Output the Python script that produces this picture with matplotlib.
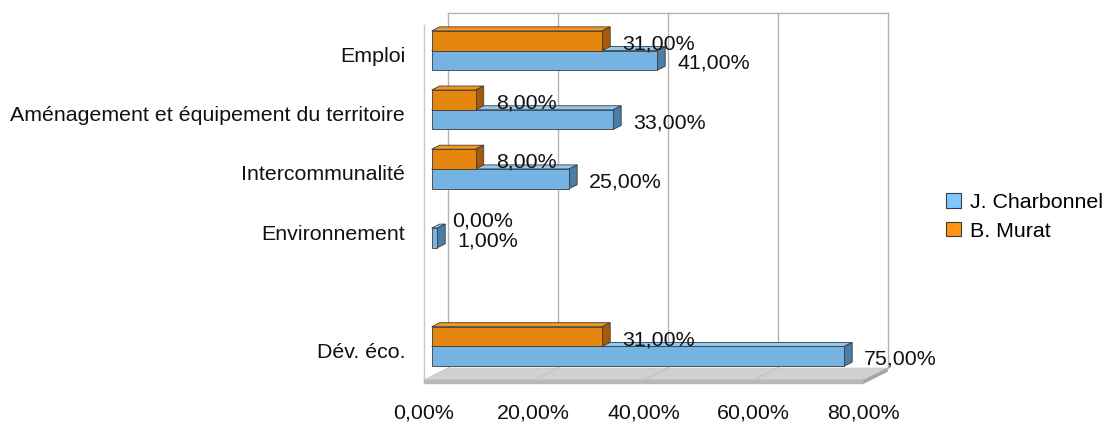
import matplotlib.pyplot as plt
from matplotlib.patches import Polygon, Patch
import numpy as np

plt.rcParams['font.family'] = ['Liberation Sans', 'DejaVu Sans']

# ------------------------------------------------------------
# Data (%), categories from top to bottom
# ------------------------------------------------------------
categories = ["Emploi", "Aménagement et équipement du territoire",
              "Intercommunalité", "Environnement", "", "Dév. éco."]
charbonnel = [41, 33, 25, 1, None, 75]
murat = [31, 8, 8, 0, None, 31]
series_names = ["J. Charbonnel", "B. Murat"]
xticks = [0, 20, 40, 60, 80]

# colours: front, top, side
blue = ("#75b4e2", "#8fcbf6", "#4a7ea6")
orange = ("#e5870f", "#f7961b", "#a75b08")
legend_cols = ["#80c8ff", "#ff9512"]
edge = "#3a3a3a"
FS = 15.4

W, H = 1104, 423
fig = plt.figure(figsize=(W / 100, H / 100), dpi=100)

# front plane of the 3D box in pixels
x0_px, x1_px = 423.7, 863.7
y_top_px, y_bot_px = 25, 380
ax = fig.add_axes([x0_px / W, (H - y_bot_px) / H, (x1_px - x0_px) / W, (y_bot_px - y_top_px) / H])
ax.set_xlim(0, 80)
ax.set_ylim(len(categories) - 0.5, -0.5)

px_x = 80 / (x1_px - x0_px)           # % per pixel
px_y = len(categories) / (y_bot_px - y_top_px)  # category per pixel
DX = 24 * px_x                        # full depth offset
DY = 12 * px_y


def P(x, y, d):
    return (x + d * DX, y - d * DY)


def poly(pts, fc, ec=None, lw=0.6, z=1):
    ax.add_patch(Polygon(pts, closed=True, facecolor=fc, edgecolor=ec if ec else fc,
                         linewidth=lw, zorder=z, clip_on=False, joinstyle='miter'))


ylo, yhi = len(categories) - 0.5, -0.5

# back wall + gridlines
poly([P(0, ylo, 1), P(80, ylo, 1), P(80, yhi, 1), P(0, yhi, 1)], "white", "none", z=0)
for t in xticks:
    ax.plot(*zip(P(t, ylo, 1), P(t, yhi, 1)), color="#b3b3b3", lw=1.0, zorder=0.5, clip_on=False)
ax.plot(*zip(P(0, yhi, 1), P(80, yhi, 1)), color="#b3b3b3", lw=1.0, zorder=0.5, clip_on=False)

# left wall edge
ax.plot([0, 0], [ylo, yhi], color="#c8c8c8", lw=1.0, zorder=0.5, clip_on=False)

# floor slab
thick = 3.5 * px_y
poly([P(0, ylo, 0), P(80, ylo, 0), P(80, ylo, 1), P(0, ylo, 1)], "#d0d0d0", "#c6c6c6", lw=0.5, z=0.6)
poly([P(0, ylo, 0), P(80, ylo, 0), P(80, ylo + thick, 0), P(0, ylo + thick, 0)], "#b9b9b9", "#b4b4b4", lw=0.3, z=0.6)
poly([P(80, ylo, 0), P(80, ylo, 1), P(80, ylo + thick, 1), P(80, ylo + thick, 0)], "#a5a5a5", "#a5a5a5", lw=0.3, z=0.6)
for t in xticks[1:-1]:
    ax.plot(*zip(P(t, ylo, 0), P(t, ylo, 1)), color="#c2c2c2", lw=0.8, zorder=0.7, clip_on=False)

# bars
bw = 1 / 3
d1, d2 = 1 / 3, 2 / 3


def bar3d(v, ya, yb, cols, z):
    if not v:
        return
    front, top, side = cols
    poly([P(0, ya, d1), P(v, ya, d1), P(v, ya, d2), P(0, ya, d2)], top, edge, z=z)
    poly([P(v, ya, d1), P(v, yb, d1), P(v, yb, d2), P(v, ya, d2)], side, edge, z=z)
    poly([P(0, ya, d1), P(v, ya, d1), P(v, yb, d1), P(0, yb, d1)], front, edge, z=z)


def label(v, ya, yb, z):
    x, y = P(v, (ya + yb) / 2, d1)
    ax.annotate(f"{v:.2f}%".replace(".", ","), xy=(x, y), xytext=(20 * 0.72, -3 * 0.72),
                textcoords="offset points", ha="left", va="center", fontsize=FS,
                color="#111111", zorder=10, annotation_clip=False)


for i in range(len(categories) - 1, -1, -1):
    if charbonnel[i] is None:
        continue
    bar3d(charbonnel[i], i, i + bw, blue, 2 + (10 - i) * 0.1)
    bar3d(murat[i], i - bw, i, orange, 2.05 + (10 - i) * 0.1)

for i in range(len(categories)):
    if charbonnel[i] is None:
        continue
    label(murat[i], i - bw, i, 10)
    label(charbonnel[i], i, i + bw, 10)

# axes cosmetics
for s in ax.spines.values():
    s.set_visible(False)
ax.set_facecolor("none")
ax.set_yticks(range(len(categories)))
ax.set_yticklabels(categories, fontsize=FS, color="#111111")
ax.set_xticks(xticks)
ax.set_xticklabels([f"{t:.2f}%".replace(".", ",") for t in xticks], fontsize=FS, color="#111111")
ax.tick_params(axis="y", length=0, pad=13.3)
ax.tick_params(axis="x", length=0, pad=17)

# legend
handles = [Patch(facecolor=legend_cols[0], edgecolor=edge, linewidth=0.8, label=series_names[0]),
           Patch(facecolor=legend_cols[1], edgecolor=edge, linewidth=0.8, label=series_names[1])]
fig.legend(handles=handles, loc="upper left", bbox_to_anchor=(946 / W, 1 - 193 / H),
           frameon=False, fontsize=FS, handlelength=0.68, handleheight=0.68,
           handletextpad=0.45, labelspacing=0.45, borderpad=0, borderaxespad=0)

plt.savefig("out.png", dpi=100)
